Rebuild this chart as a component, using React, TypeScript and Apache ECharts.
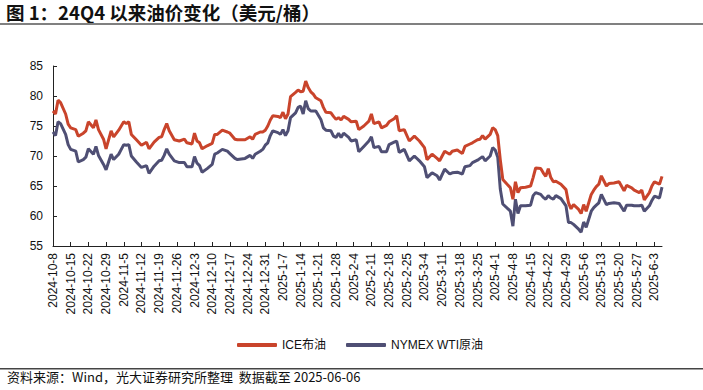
import React, { useEffect, useRef } from 'react';
import * as echarts from 'echarts';

// ---- axis range ----
const START_DATE = '2024-10-08';
const END_DATE = '2025-06-06';
const Y_MIN = 55;
const Y_MAX = 85;
const Y_STEP = 5;
const LABEL_EVERY = 7; // one tick label per week

const seriesNames = ['ICE布油', 'NYMEX WTI原油'];
const seriesColors = ['#C9442B', '#4F4F74'];

// ---- data ----
const sampleDates = [
  '2024-10-08', '2024-10-09', '2024-10-10', '2024-10-11', '2024-10-13', '2024-10-14', '2024-10-15', '2024-10-17', '2024-10-18', '2024-10-20', '2024-10-21', '2024-10-22', '2024-10-24', '2024-10-25', '2024-10-26', '2024-10-28', '2024-10-29', '2024-10-31',
  '2024-11-01', '2024-11-03', '2024-11-05', '2024-11-06', '2024-11-07', '2024-11-08', '2024-11-10', '2024-11-12', '2024-11-14', '2024-11-15', '2024-11-17', '2024-11-19', '2024-11-20', '2024-11-21', '2024-11-22', '2024-11-23', '2024-11-25', '2024-11-27', '2024-11-29', '2024-11-30',
  '2024-12-02', '2024-12-03', '2024-12-04', '2024-12-05', '2024-12-06', '2024-12-08', '2024-12-10', '2024-12-11', '2024-12-12', '2024-12-14', '2024-12-16', '2024-12-17', '2024-12-19', '2024-12-20', '2024-12-23', '2024-12-25', '2024-12-26', '2024-12-27', '2024-12-29', '2024-12-30', '2024-12-31',
  '2025-01-01', '2025-01-02', '2025-01-03', '2025-01-05', '2025-01-06', '2025-01-07', '2025-01-08', '2025-01-09', '2025-01-10', '2025-01-12', '2025-01-13', '2025-01-14', '2025-01-15', '2025-01-16', '2025-01-17', '2025-01-18', '2025-01-19', '2025-01-20', '2025-01-22', '2025-01-23', '2025-01-24', '2025-01-26', '2025-01-27', '2025-01-28', '2025-01-29', '2025-01-30', '2025-01-31',
  '2025-02-02', '2025-02-03', '2025-02-05', '2025-02-06', '2025-02-08', '2025-02-10', '2025-02-11', '2025-02-12', '2025-02-14', '2025-02-15', '2025-02-17', '2025-02-18', '2025-02-20', '2025-02-21', '2025-02-22', '2025-02-24', '2025-02-26', '2025-02-28',
  '2025-03-02', '2025-03-04', '2025-03-05', '2025-03-07', '2025-03-09', '2025-03-10', '2025-03-12', '2025-03-14', '2025-03-15', '2025-03-17', '2025-03-19', '2025-03-20', '2025-03-22', '2025-03-23', '2025-03-25', '2025-03-26', '2025-03-27', '2025-03-28', '2025-03-30', '2025-03-31',
  '2025-04-01', '2025-04-02', '2025-04-03', '2025-04-04', '2025-04-07', '2025-04-08', '2025-04-09', '2025-04-10', '2025-04-11', '2025-04-13', '2025-04-15', '2025-04-16', '2025-04-17', '2025-04-19', '2025-04-20', '2025-04-21', '2025-04-22', '2025-04-23', '2025-04-24', '2025-04-25', '2025-04-27', '2025-04-29', '2025-04-30',
  '2025-05-01', '2025-05-02', '2025-05-04', '2025-05-05', '2025-05-06', '2025-05-07', '2025-05-09', '2025-05-10', '2025-05-11', '2025-05-12', '2025-05-13', '2025-05-15', '2025-05-16', '2025-05-18', '2025-05-20', '2025-05-22', '2025-05-23', '2025-05-25', '2025-05-26', '2025-05-28', '2025-05-29', '2025-05-30',
  '2025-06-01', '2025-06-02', '2025-06-03', '2025-06-05', '2025-06-06',
];

const iceBrent = [
  77.5, 77.0, 79.3, 78.9, 77.0, 75.3, 74.7, 74.4, 73.3, 73.8, 74.2, 75.7, 74.7, 76.0, 74.4, 72.8, 71.2, 74.2,
  73.2, 74.3, 75.7, 75.4, 75.7, 73.6, 72.7, 71.8, 72.3, 71.2, 72.3, 73.1, 73.2, 74.4, 75.4, 74.2, 72.7, 72.5, 72.8, 72.2,
  72.0, 73.8, 72.5, 72.2, 71.2, 71.7, 72.1, 73.6, 73.6, 74.3, 74.0, 73.8, 72.8, 72.7, 72.7, 73.2, 72.8, 73.6, 74.0, 74.0, 74.3,
  75.0, 76.0, 76.7, 76.6, 76.4, 77.3, 76.2, 77.0, 79.9, 80.6, 81.0, 80.7, 80.8, 82.5, 81.4, 80.7, 80.3, 79.7, 79.2, 78.1, 77.3, 77.2, 76.6, 76.1, 76.4, 76.0, 76.6,
  76.1, 75.7, 75.8, 74.4, 75.0, 75.8, 77.0, 75.4, 75.7, 74.7, 75.1, 75.7, 76.2, 76.7, 74.2, 74.4, 72.5, 73.3,
  72.5, 71.4, 69.4, 70.3, 69.6, 69.2, 70.8, 70.3, 70.8, 71.0, 70.4, 71.6, 72.0, 72.2, 72.7, 72.8, 73.4, 72.8, 73.6, 74.7,
  74.4, 73.4, 69.4, 66.1, 64.7, 62.8, 65.7, 63.9, 64.7, 64.8, 65.0, 66.4, 68.0, 67.9, 67.2, 66.6, 67.9, 66.4, 65.7, 65.8, 65.3, 64.4, 62.2,
  61.2, 61.9, 61.1, 60.4, 61.9, 60.8, 63.6, 64.3, 64.9, 65.3, 66.7, 65.0, 65.4, 65.5, 65.7, 64.2, 65.1, 64.7, 64.3, 63.9, 64.3, 62.7,
  63.9, 65.0, 65.7, 65.3, 66.6,
];

const nymexWti = [
  74.0, 73.4, 75.7, 75.4, 73.6, 71.9, 71.1, 70.8, 69.0, 69.4, 69.8, 71.2, 70.3, 71.6, 70.1, 68.6, 67.7, 70.3,
  69.4, 70.3, 71.9, 71.8, 71.9, 70.0, 69.0, 68.1, 68.4, 67.1, 68.3, 69.2, 69.3, 70.1, 71.2, 70.3, 69.2, 68.9, 68.9, 68.2,
  68.2, 69.9, 68.8, 68.4, 67.3, 67.9, 68.6, 70.3, 70.5, 71.1, 70.8, 70.4, 69.6, 69.4, 69.6, 70.1, 69.6, 70.3, 70.8, 71.1, 71.8,
  72.2, 73.4, 74.2, 73.9, 73.6, 74.4, 73.4, 74.2, 76.4, 77.2, 78.1, 78.3, 77.0, 79.2, 77.9, 77.5, 77.5, 77.5, 76.1, 74.7, 74.3, 74.2, 73.3, 73.1, 73.8, 73.1, 73.8,
  73.1, 72.5, 72.7, 70.7, 71.6, 72.5, 73.2, 71.4, 71.6, 70.7, 70.7, 71.9, 72.3, 72.5, 70.6, 71.1, 69.2, 70.0,
  69.2, 68.2, 66.4, 67.2, 66.7, 66.0, 67.8, 67.0, 67.2, 67.3, 67.0, 68.2, 68.4, 68.9, 69.3, 69.6, 69.9, 69.2, 70.0, 71.4,
  71.0, 69.8, 64.5, 62.0, 60.8, 58.3, 62.8, 60.4, 61.7, 61.7, 61.8, 63.4, 63.9, 63.6, 63.1, 62.8, 63.4, 63.0, 62.8, 63.4, 62.9, 61.7, 58.9,
  58.9, 58.6, 57.8, 57.3, 59.0, 58.1, 60.8, 61.4, 61.8, 62.2, 63.6, 61.9, 62.1, 62.2, 62.1, 60.8, 61.8, 61.8, 61.7, 61.7, 61.8, 60.8,
  61.7, 62.6, 63.3, 63.0, 64.8,
];

const TITLE = '图 1：24Q4 以来油价变化（美元/桶）';
const SOURCE = '资料来源：Wind，光大证券研究所整理  数据截至 2025-06-06';

const LATIN = '"Liberation Sans", Arial, "Noto Sans CJK SC", sans-serif';
const CJK = '"Noto Sans CJK SC", "Liberation Sans", sans-serif';

function buildCalendar() {
  const keys: string[] = [];
  const labels: string[] = [];
  const d = new Date(START_DATE + 'T00:00:00Z');
  const end = new Date(END_DATE + 'T00:00:00Z');
  while (d.getTime() <= end.getTime()) {
    const y = d.getUTCFullYear();
    const m = d.getUTCMonth() + 1;
    const day = d.getUTCDate();
    keys.push(`${y}-${String(m).padStart(2, '0')}-${String(day).padStart(2, '0')}`);
    labels.push(`${y}-${m}-${day}`);
    d.setUTCDate(day + 1);
  }
  return { keys, labels };
}

function alignToCalendar(keys: string[], values: number[]) {
  const map: Record<string, number> = {};
  sampleDates.forEach((k, i) => {
    map[k] = values[i];
  });
  return keys.map((k) => (k in map ? map[k] : null));
}

export default function App() {
  const ref = useRef<HTMLDivElement>(null);

  useEffect(() => {
    if (!ref.current) return;
    const chart = echarts.init(ref.current, undefined, { renderer: 'svg' });
    const { keys, labels } = buildCalendar();
    const seriesValues = [iceBrent, nymexWti];

    chart.setOption({
      animation: false,
      backgroundColor: '#ffffff',
      grid: { left: 53, right: 41, top: 66, bottom: 144, containLabel: false },
      legend: {
        left: 232,
        top: 334,
        itemWidth: 40,
        itemHeight: 4,
        itemGap: 20,
        icon: 'roundRect',
        textStyle: { fontSize: 12, color: '#111', fontFamily: LATIN },
        data: seriesNames,
      },
      xAxis: {
        type: 'category',
        data: labels,
        boundaryGap: false,
        axisLine: { show: true, lineStyle: { color: '#222', width: 1 } },
        axisTick: { show: true, inside: true, length: 4, interval: LABEL_EVERY - 1, lineStyle: { color: '#222' } },
        axisLabel: {
          interval: LABEL_EVERY - 1,
          rotate: 90,
          fontSize: 12,
          color: '#111',
          margin: 7,
          fontFamily: LATIN,
        },
        splitLine: { show: false },
      },
      yAxis: {
        type: 'value',
        min: Y_MIN,
        max: Y_MAX,
        interval: Y_STEP,
        axisLine: { show: true, lineStyle: { color: '#222', width: 1 } },
        axisTick: { show: true, inside: true, length: 4, lineStyle: { color: '#222' } },
        axisLabel: { fontSize: 12, color: '#111', margin: 10, fontFamily: LATIN },
        splitLine: { show: false },
      },
      series: seriesNames.map((name, i) => ({
        name,
        type: 'line',
        data: alignToCalendar(keys, seriesValues[i]),
        connectNulls: true,
        showSymbol: false,
        symbol: 'none',
        lineStyle: { color: seriesColors[i], width: 3 },
        itemStyle: { color: seriesColors[i] },
        z: i === 0 ? 3 : 2,
      })),
      graphic: [
        {
          type: 'text',
          left: 6,
          top: 3,
          style: { text: TITLE, font: `bold 18.5px ${CJK}`, fill: '#111' },
        },
        {
          type: 'rect',
          shape: { x: 0, y: 23, width: 703, height: 2 },
          style: { fill: '#808080' },
        },
        {
          type: 'rect',
          shape: { x: 0, y: 368, width: 703, height: 1.5 },
          style: { fill: '#444' },
        },
        {
          type: 'text',
          left: 7,
          top: 370,
          style: { text: SOURCE, font: `13px ${CJK}`, fill: '#111' },
        },
      ],
    });

    return () => chart.dispose();
  }, []);

  return (
    <div
      ref={ref}
      style={{ position: 'fixed', left: 0, top: 0, width: 703, height: 390, background: '#fff' }}
    />
  );
}
